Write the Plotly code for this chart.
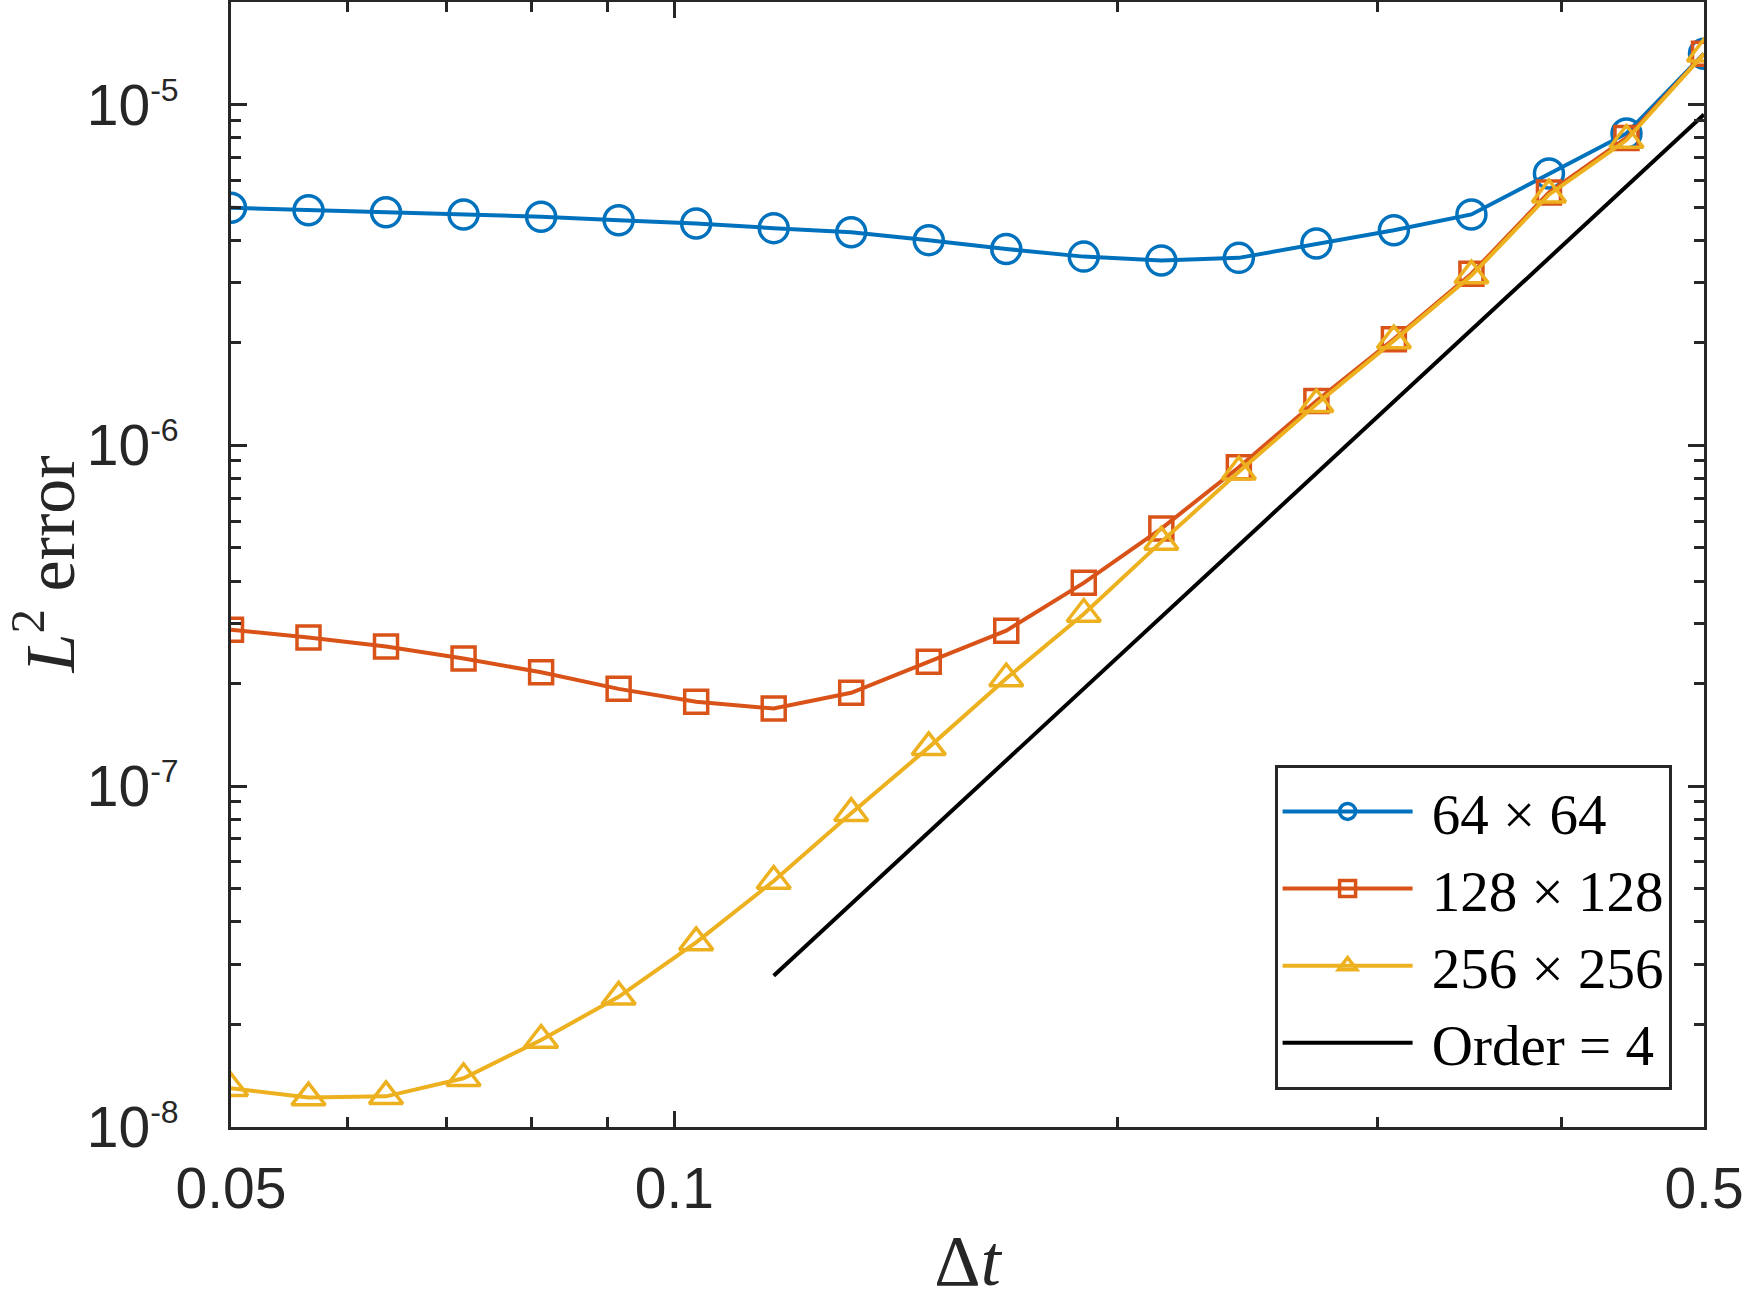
import plotly.graph_objects as go

dt = [0.05, 0.05644, 0.06371, 0.07192, 0.08119, 0.09165, 0.10346, 0.11679,
      0.13183, 0.14882, 0.16799, 0.18963, 0.21407, 0.24165, 0.27278,
      0.30792, 0.34760, 0.39238, 0.44293, 0.5]

# L2-Fehler je Gitter
err_64 = [4.98e-6, 4.90e-6, 4.83e-6, 4.76e-6, 4.69e-6, 4.58e-6, 4.48e-6,
          4.34e-6, 4.22e-6, 4.00e-6, 3.77e-6, 3.58e-6, 3.49e-6, 3.55e-6,
          3.91e-6, 4.28e-6, 4.76e-6, 6.28e-6, 8.23e-6, 1.41e-5]
err_128 = [2.88e-7, 2.73e-7, 2.57e-7, 2.37e-7, 2.16e-7, 1.93e-7, 1.77e-7,
           1.69e-7, 1.88e-7, 2.32e-7, 2.86e-7, 3.95e-7, 5.70e-7, 8.63e-7,
           1.35e-6, 2.05e-6, 3.19e-6, 5.52e-6, 7.98e-6, 1.41e-5]
err_256 = [1.30e-8, 1.22e-8, 1.23e-8, 1.39e-8, 1.80e-8, 2.41e-8, 3.48e-8,
           5.27e-8, 8.33e-8, 1.30e-7, 2.07e-7, 3.20e-7, 5.21e-7, 8.37e-7,
           1.32e-6, 2.03e-6, 3.15e-6, 5.44e-6, 7.87e-6, 1.41e-5]

# Referenzlinie Ordnung 4
dt_order = [0.11679, 0.5]
err_order = [2.78e-8, 9.35e-6]

names = ["64 × 64", "128 × 128", "256 × 256", "Order = 4"]
colors = ["#0072BD", "#D95319", "#EDB120", "#000000"]
symbols = ["circle-open", "square-open", "triangle-up-open"]
sizes = [29, 23, 29]

y_tickvals = [1e-8, 1e-7, 1e-6, 1e-5]
y_exponents = ["-8", "-7", "-6", "-5"]
x_tickvals = [0.05, 0.1, 0.5]
x_ticktext = ["0.05", "0.1", "0.5"]
x_minor = [0.06, 0.07, 0.08, 0.09, 0.2, 0.3, 0.4]

y_ticktext = ['10<sup><span style="font-size:32px">%s</span></sup>' % e for e in y_exponents]

fig = go.Figure()
for i, err in enumerate([err_64, err_128, err_256]):
    fig.add_trace(go.Scatter(
        x=dt, y=err, name="\u00a0" + names[i], mode="lines+markers",
        line=dict(color=colors[i], width=4),
        marker=dict(symbol=symbols[i], size=sizes[i], color=colors[i],
                    line=dict(width=3.5, color=colors[i])),
    ))
fig.add_trace(go.Scatter(
    x=dt_order, y=err_order, name="\u00a0" + names[3], mode="lines",
    line=dict(color=colors[3], width=4),
))

axis_col = "#262626"
tick_font = dict(family="Liberation Sans, Arial, sans-serif", size=57, color=axis_col)
title_font = dict(family="Liberation Serif, Times New Roman, serif", size=72, color=axis_col)

# y-Titel als Annotation, damit er frei links platziert werden kann
fig.add_annotation(
    text="<i>L</i><sup>2</sup> error", font=dict(title_font, size=70), textangle=-90,
    xref="paper", yref="paper", x=-0.127, y=0.5,
    xanchor="center", yanchor="middle", showarrow=False,
)

fig.update_layout(
    width=1750, height=1313,
    margin=dict(l=231, r=46, t=2, b=186),
    plot_bgcolor="white", paper_bgcolor="white",
    showlegend=True,
    legend=dict(
        x=0.978, y=0.033, xanchor="right", yanchor="bottom",
        bgcolor="white", bordercolor=axis_col, borderwidth=3,
        font=dict(family="Liberation Serif, Times New Roman, serif", size=57, color="black"),
        itemwidth=130,
    ),
    xaxis=dict(
        type="log", range=[-1.30103, -0.30103],
        tickvals=x_tickvals, ticktext=x_ticktext,
        ticks="inside", ticklen=16, tickwidth=3, tickcolor=axis_col,
        minor=dict(tickmode="array", tickvals=x_minor, ticks="inside",
                   ticklen=10, tickwidth=3, tickcolor=axis_col),
        showline=True, linewidth=3, linecolor=axis_col, mirror="ticks",
        showgrid=False, zeroline=False,
        tickfont=tick_font, ticklabelstandoff=10,
        title=dict(text="Δ<i>t</i>", font=title_font, standoff=16),
        automargin=False,
    ),
    yaxis=dict(
        type="log", range=[-8, -4.699],
        tickvals=y_tickvals, ticktext=y_ticktext,
        ticks="inside", ticklen=16, tickwidth=3, tickcolor=axis_col,
        minor=dict(ticks="inside", ticklen=10, tickwidth=3, tickcolor=axis_col,
                   dtick="D1"),
        showline=True, linewidth=3, linecolor=axis_col, mirror="ticks",
        showgrid=False, zeroline=False,
        tickfont=tick_font, ticklabelstandoff=38,
        automargin=False,
    ),
)

# Seitenrand entfernen, damit die Abbildung genau im Fenster sitzt
fig.write_html("out.html", config={"displayModeBar": False},
               post_script="document.body.style.margin='0';")
